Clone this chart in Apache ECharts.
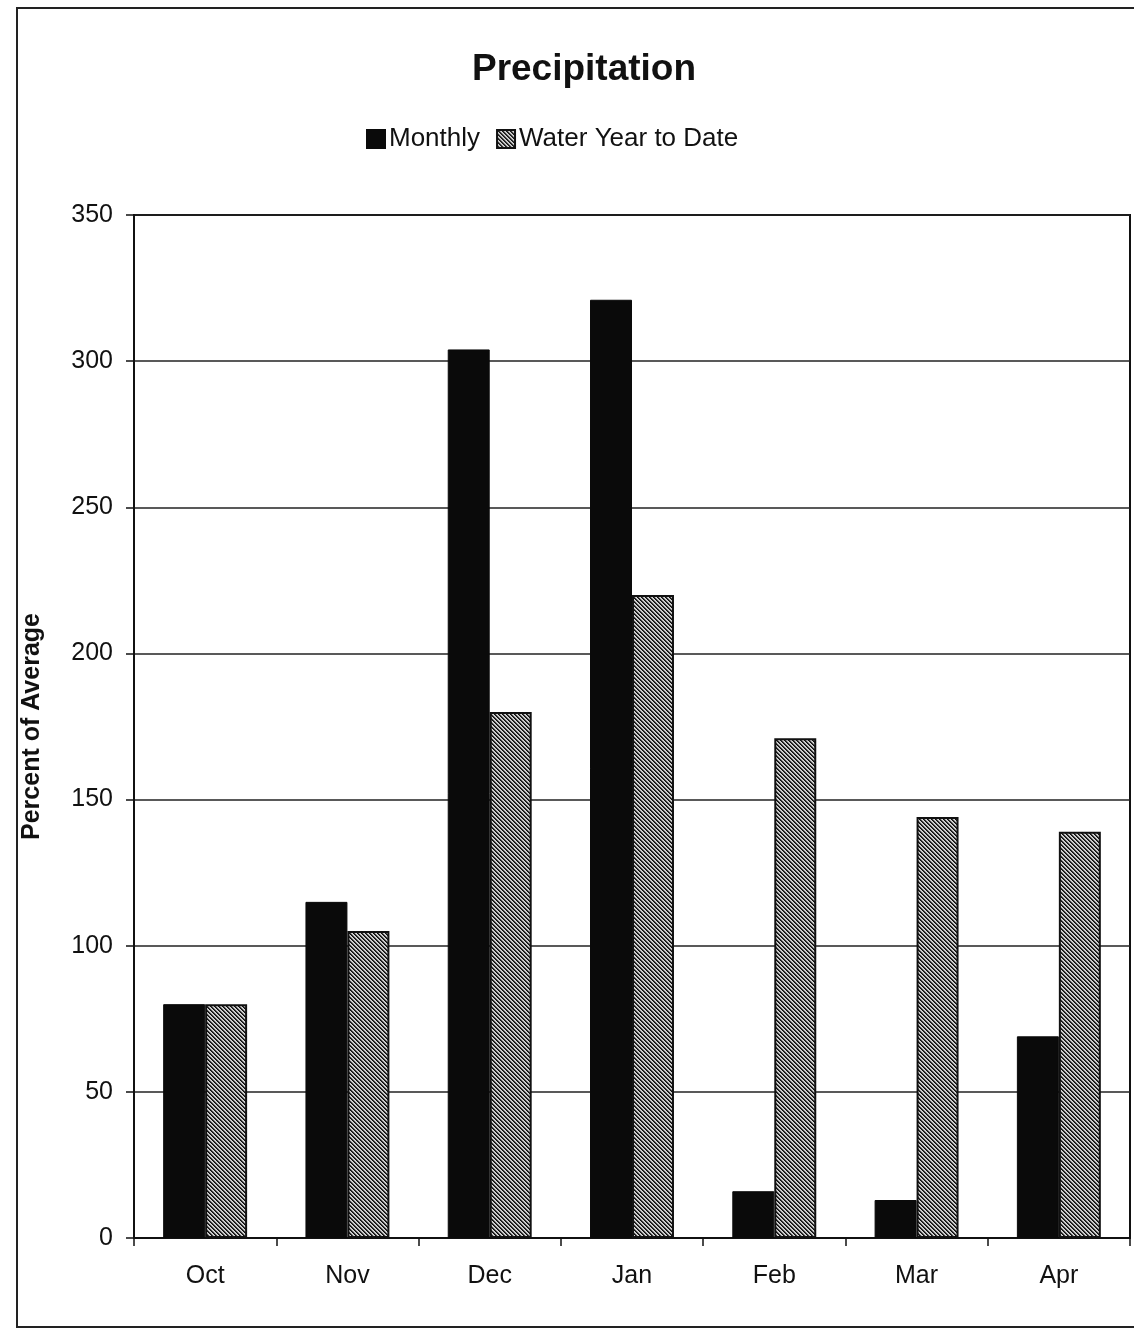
<!DOCTYPE html>
<html>
<head>
<meta charset="utf-8">
<title>Precipitation</title>
<script src="https://cdn.jsdelivr.net/npm/echarts@6/dist/echarts.min.js"></script>
<style>
  html, body { margin: 0; padding: 0; background: #fff; }
  #chart { width: 1134px; height: 1328px; }
</style>
</head>
<body>
<div id="chart"></div>
<script>
// Percent of average precipitation, by month of the water year
const categories = ['Oct', 'Nov', 'Dec', 'Jan', 'Feb', 'Mar', 'Apr'];
const monthly = [80, 115, 304, 321, 16, 13, 69];
const waterYearToDate = [80, 105, 180, 220, 171, 144, 139];
const yTicks = [0, 50, 100, 150, 200, 250, 300, 350];

const FONT = "'Liberation Sans', Arial, sans-serif";

// Diagonal hatch tile for the cumulative series
function hatchTile() {
  const size = 4;
  const c = document.createElement('canvas');
  c.width = size; c.height = size;
  const ctx = c.getContext('2d');
  const img = ctx.createImageData(size, size);
  const shade = [15, 55, 190, 215];
  for (let y = 0; y < size; y++) {
    for (let x = 0; x < size; x++) {
      const d = ((x - y) % size + size) % size;
      const v = shade[d];
      const i = (y * size + x) * 4;
      img.data[i] = v; img.data[i + 1] = v; img.data[i + 2] = v; img.data[i + 3] = 255;
    }
  }
  ctx.putImageData(img, 0, 0);
  return c;
}

const chart = echarts.init(document.getElementById('chart'), null, { renderer: 'canvas' });

chart.setOption({
  backgroundColor: '#fff',
  animation: false,
  title: {
    text: 'Precipitation',
    left: 579,
    textAlign: 'center',
    top: 46,
    textStyle: { fontFamily: FONT, fontSize: 37, fontWeight: 'bold', color: '#111' }
  },
  legend: {
    top: 121,
    left: 361,
    itemWidth: 18,
    itemHeight: 18,
    itemGap: 16,
    icon: 'rect',
    textStyle: { fontFamily: FONT, fontSize: 26, color: '#111', padding: [0, 0, 0, -1] },
    data: ['Monthly', 'Water Year to Date']
  },
  grid: {
    left: 134,
    right: 4,
    top: 215,
    bottom: 90,
    outerBoundsMode: 'none',
    containLabel: false,
    show: true,
    borderColor: '#111',
    borderWidth: 2,
    backgroundColor: 'transparent'
  },
  xAxis: {
    type: 'category',
    data: categories,
    axisLine: { lineStyle: { color: '#111', width: 2 } },
    axisTick: { show: true, length: 8, lineStyle: { color: '#111', width: 1.5 } },
    axisLabel: { fontFamily: FONT, fontSize: 25, color: '#111', margin: 26 }
  },
  yAxis: {
    type: 'value',
    min: yTicks[0],
    max: yTicks[yTicks.length - 1],
    interval: yTicks[1] - yTicks[0],
    name: 'Percent of Average',
    nameLocation: 'middle',
    nameGap: 89,
    nameTextStyle: { fontFamily: FONT, fontSize: 25, fontWeight: 'bold', color: '#111' },
    axisLine: { show: true, lineStyle: { color: '#111', width: 2 } },
    axisTick: { show: true, length: 8, lineStyle: { color: '#111', width: 1.5 } },
    axisLabel: { fontFamily: FONT, fontSize: 25, color: '#111', margin: 21 },
    splitLine: { show: true, lineStyle: { color: '#222', width: 1.5 } }
  },
  series: [
    {
      name: 'Monthly',
      type: 'bar',
      data: monthly,
      barGap: '0%',
      barCategoryGap: '41%',
      itemStyle: { color: '#0a0a0a', borderColor: '#0a0a0a', borderWidth: 1 }
    },
    {
      name: 'Water Year to Date',
      type: 'bar',
      data: waterYearToDate,
      barGap: '0%',
      barCategoryGap: '41%',
      itemStyle: {
        color: { image: hatchTile(), repeat: 'repeat' },
        borderColor: '#111',
        borderWidth: 2
      }
    }
  ],
  graphic: [
    {
      type: 'rect',
      shape: { x: 17, y: 8, width: 1140, height: 1319 },
      style: { fill: 'none', stroke: '#222', lineWidth: 2 },
      silent: true
    }
  ]
});
</script>
</body>
</html>
